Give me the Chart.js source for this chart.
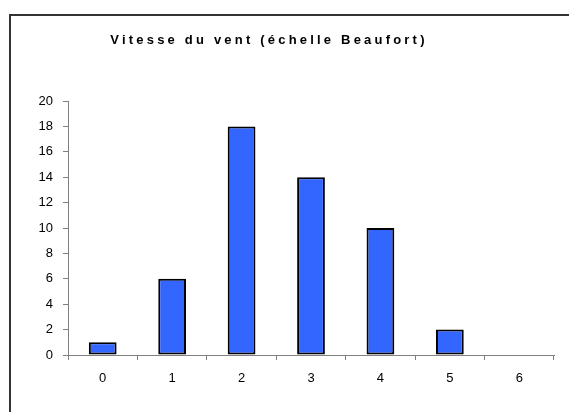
<!DOCTYPE html>
<html>
<head>
<meta charset="utf-8">
<script src="https://cdn.jsdelivr.net/npm/chart.js@4/dist/chart.umd.min.js"></script>
<style>
  html, body { margin: 0; padding: 0; background: #fff; }
  #wrap { width: 569px; height: 412px; position: relative; }
</style>
</head>
<body>
<div id="wrap"><canvas id="windChart" width="569" height="412"></canvas></div>
<script>
/* Vitesse du vent : histogramme sur l'échelle Beaufort. */

const TITLE = 'Vitesse du vent (échelle Beaufort)';
const categories = ['0', '1', '2', '3', '4', '5', '6'];
const counts = [1, 6, 18, 14, 10, 2, 0];
const yTicks = { min: 0, max: 20, step: 2 };

const FONT = '"Liberation Sans", Arial, sans-serif';

// cadre + titre espacé, dessinés à la main
const framePlugin = {
  id: 'frame',
  beforeDraw(chart) {
    const ctx = chart.ctx;
    ctx.save();
    ctx.fillStyle = '#fff';
    ctx.fillRect(0, 0, chart.width, chart.height);
    ctx.strokeStyle = '#333';
    ctx.lineWidth = 2;
    ctx.strokeRect(10, 15, 700, 600);
    ctx.restore();
  },
  afterDraw(chart) {
    const ctx = chart.ctx;
    ctx.save();
    ctx.font = 'bold 13px ' + FONT;
    ctx.letterSpacing = '3.2px';
    ctx.fillStyle = '#000';
    ctx.textAlign = 'center';
    ctx.textBaseline = 'middle';
    ctx.fillText(TITLE, 269, 40);
    ctx.restore();
  }
};

new Chart(document.getElementById('windChart'), {
  type: 'bar',
  data: {
    labels: categories,
    datasets: [{
      data: counts,
      backgroundColor: '#3366ff',
      borderColor: '#000',
      borderWidth: 2,
      borderSkipped: false,
      barPercentage: 0.4,
      categoryPercentage: 1.0
    }]
  },
  options: {
    responsive: false,
    animation: false,
    devicePixelRatio: 1,
    layout: { padding: { left: 0, right: 15, top: 101, bottom: 0 } },
    plugins: { legend: { display: false }, title: { display: false }, tooltip: { enabled: false } },
    scales: {
      x: {
        grid: { drawOnChartArea: false, drawTicks: true, tickLength: 5, color: '#808080', offset: true },
        border: { color: '#808080', width: 1 },
        ticks: { color: '#000', font: { family: FONT, size: 13 }, padding: 11 },
        afterFit(s) { s.height = 57; }
      },
      y: {
        min: yTicks.min, max: yTicks.max,
        grid: { drawOnChartArea: false, drawTicks: true, tickLength: 5, color: '#808080' },
        border: { color: '#808080', width: 1 },
        ticks: { stepSize: yTicks.step, color: '#000', font: { family: FONT, size: 13 }, padding: 10 },
        afterFit(s) { s.width = 68; }
      }
    }
  },
  plugins: [framePlugin]
});
</script>
</body>
</html>
